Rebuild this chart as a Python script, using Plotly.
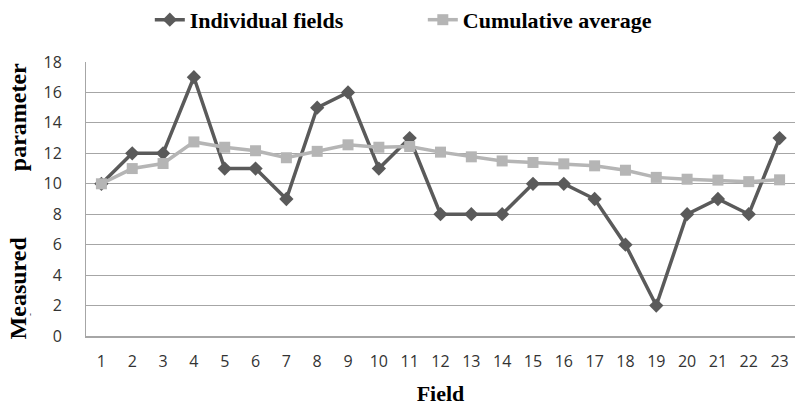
import plotly.graph_objects as go

fields = list(range(1, 24))
individual = [10, 12, 12, 17, 11, 11, 9, 15, 16, 11, 13, 8, 8, 8, 10, 10, 9, 6, 2, 8, 9, 8, 13]
cumulative = [10, 11, 11.33, 12.75, 12.4, 12.17, 11.71, 12.13, 12.56, 12.4, 12.45, 12.08,
              11.77, 11.5, 11.4, 11.31, 11.18, 10.89, 10.42, 10.3, 10.24, 10.14, 10.26]
y_ticks = list(range(0, 19, 2))

fig = go.Figure()
fig.add_trace(go.Scatter(
    x=fields, y=individual, name="Individual fields", mode="lines+markers",
    line=dict(color="#5a5a5a", width=3.5),
    marker=dict(symbol="diamond", size=11, color="#5a5a5a"),
))
fig.add_trace(go.Scatter(
    x=fields, y=cumulative, name="Cumulative average", mode="lines+markers",
    line=dict(color="#b5b5b5", width=3.5),
    marker=dict(symbol="square", size=11, color="#b5b5b5"),
))

fig.update_layout(
    width=795, height=406,
    margin=dict(l=86, r=0, t=62, b=70),
    plot_bgcolor="white", paper_bgcolor="white",
    showlegend=True,
    legend=dict(orientation="h", x=0.09, xanchor="left", xref="paper",
                y=0.951, yanchor="middle", yref="container",
                font=dict(family="Liberation Serif", size=22, color="black", weight="bold"),
                entrywidth=228, entrywidthmode="pixels",
                itemwidth=30, traceorder="normal"),
    xaxis=dict(range=[0.5, 23.5], tickmode="array", tickvals=fields,
               ticktext=[str(f) for f in fields], showgrid=False,
               showline=True, linecolor="#a6a6a6", linewidth=1.5, ticks="",
               tickfont=dict(family="Open Sans", size=16, color="#333333"),
               ticklabelstandoff=10,
               title=dict(text="<b>Field</b>", standoff=16,
                          font=dict(family="Liberation Serif", size=22, color="black"))),
    yaxis=dict(range=[0, 18], tickmode="array", tickvals=y_ticks,
               showgrid=True, gridcolor="#a6a6a6", gridwidth=1,
               showline=True, linecolor="#a6a6a6", linewidth=1, ticks="",
               zeroline=False, mirror=False,
               tickfont=dict(family="Open Sans", size=16, color="#333333"),
               ticklabelstandoff=20),
)

fig.add_annotation(
    text="<b>Measured" + "\u00a0" * 11 + "parameter</b>",
    xref="paper", yref="paper", x=-0.0966, y=0.493, xanchor="center", yanchor="middle",
    textangle=-90, showarrow=False,
    font=dict(family="Liberation Serif", size=24, color="black"),
)
fig.add_annotation(
    text="-", xref="paper", yref="paper", x=(30 - 86) / 709, y=(336 - 315) / 274,
    xanchor="center", yanchor="middle", textangle=-90, showarrow=False,
    font=dict(family="Liberation Sans", size=9, color="#333333"),
)

fig.write_html("out.html")
